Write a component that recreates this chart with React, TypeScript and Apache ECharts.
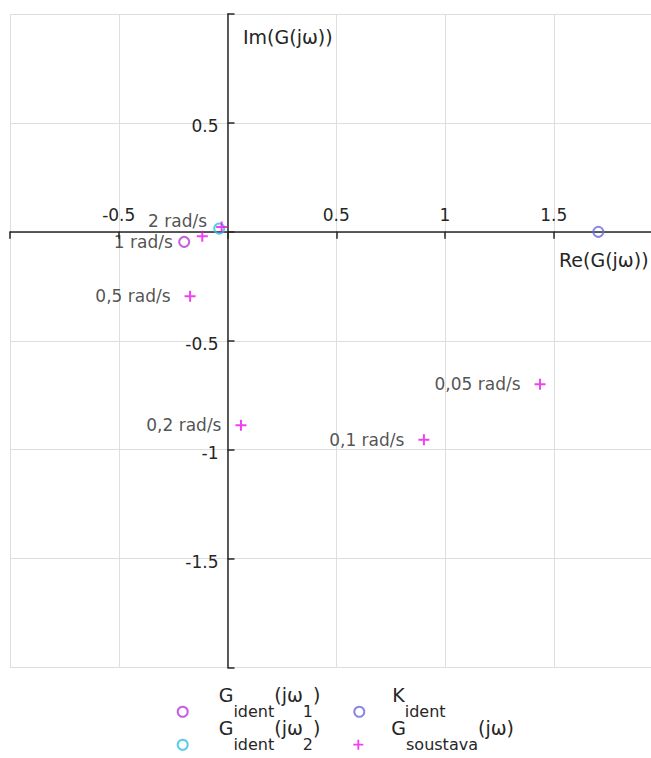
import { useEffect, useRef } from 'react';
import * as echarts from 'echarts';

// Identified frequency-response points (Re, Im)
const gIdent1Point = [-0.199, -0.046];
const gIdent2Point = [-0.038, 0.015];
const kIdentPoint = [1.705, 0];

// Measured plant response G_soustava(jω) at selected frequencies
const gsFreqLabels = ['0,05 rad/s', '0,1 rad/s', '0,2 rad/s', '0,5 rad/s', '1 rad/s', '2 rad/s'];
const gsRe = [1.437, 0.903, 0.062, -0.172, -0.116, -0.027];
const gsIm = [-0.7, -0.954, -0.888, -0.296, -0.02, 0.022];

// Axis ranges and tick values whose labels are not shown
const reRange = [-1, 2];
const imRange = [-2, 1];
const hiddenReTicks = [-1, 0, 2];
const hiddenImTicks = [1, 0, -2];

const FONT = '"DejaVu Sans", Verdana, sans-serif';
const INK = '#262626';
const GRID = '#dedede';
const C_G1 = '#b934d8';
const C_K = '#6a6ae0';
const C_G2 = '#2fc0e2';
const C_GS = '#ee10ee';

const PLUS = 'path://M4.1,0H5.9V4.1H10V5.9H5.9V10H4.1V5.9H0V4.1H4.1Z';

// plot box in pixels
const PLOT = { left: 10, top: 14, width: 652.5, height: 653.5 };

// per-label nudges for the crowded points near the origin
const labelShift: Record<string, [number, number]> = {
  '1 rad/s': [-10, 6],
  '2 rad/s': [5, -6],
};

// legend entries as rich text: m = main text, s = subscript
const legendText: Record<string, string> = {
  G1: '{m|G}{s|ident}{m|(jω}{s|1}{m|)}',
  K: '{m|K}{s|ident}',
  G2: '{m|G}{s|ident}{m|(jω}{s|2}{m|)}',
  Gs: '{m|G}{s|soustava}{m|(jω)}',
};

const hollow = (c: string) => ({ color: 'rgba(0,0,0,0)', borderColor: c, borderWidth: 2 });

export default function App() {
  const ref = useRef<HTMLDivElement>(null);

  useEffect(() => {
    if (!ref.current) return;
    const chart = echarts.init(ref.current, undefined, { renderer: 'svg' });

    // axes cross at the origin: shift each axis from its grid edge to zero
    const zeroFromLeft = (PLOT.width * (0 - reRange[0])) / (reRange[1] - reRange[0]);
    const zeroFromBottom = (PLOT.height * (0 - imRange[0])) / (imRange[1] - imRange[0]);

    const axisCommon = {
      type: 'value' as const,
      interval: 0.5,
      axisLine: { onZero: false, lineStyle: { color: INK, width: 1.5 } },
      splitLine: { show: true, lineStyle: { color: GRID, width: 1 } },
    };
    const tickStyle = { show: true, length: 7, lineStyle: { color: INK, width: 1.5 } };

    const legendEntry = (gap: number) => ({
      orient: 'vertical' as const,
      padding: 0,
      itemWidth: 10,
      itemHeight: 10,
      selectedMode: false,
      formatter: (name: string) => '{g| }' + legendText[name],
      textStyle: {
        color: INK,
        fontFamily: FONT,
        rich: {
          g: { width: gap, fontSize: 10, lineHeight: 22, verticalAlign: 'top' },
          m: { fontSize: 19, lineHeight: 22, verticalAlign: 'top', color: INK, fontFamily: FONT },
          s: { fontSize: 16, lineHeight: 52, height: 52, verticalAlign: 'top', color: INK, fontFamily: FONT },
        },
      },
    });

    chart.setOption({
      animation: false,
      backgroundColor: '#ffffff',
      textStyle: { fontFamily: FONT },
      grid: { ...PLOT, containLabel: false, outerBoundsMode: 'none' },
      xAxis: {
        ...axisCommon,
        position: 'bottom',
        offset: -zeroFromBottom,
        min: reRange[0],
        max: reRange[1],
        axisTick: { ...tickStyle, inside: false },
        axisLabel: {
          inside: true,
          margin: 8,
          fontSize: 17,
          color: INK,
          fontFamily: FONT,
          formatter: (v: number) => (hiddenReTicks.includes(v) ? '' : String(v)),
        },
      },
      yAxis: {
        ...axisCommon,
        position: 'left',
        offset: -zeroFromLeft,
        min: imRange[0],
        max: imRange[1],
        axisTick: { ...tickStyle, inside: true },
        axisLabel: {
          inside: false,
          margin: 9,
          fontSize: 17,
          color: INK,
          fontFamily: FONT,
          verticalAlign: 'top',
          lineHeight: 7,
          formatter: (v: number) => (hiddenImTicks.includes(v) ? '' : String(v)),
        },
      },
      legend: [
        { ...legendEntry(26), left: 176.7, top: 685.7, data: [{ name: 'G1', icon: 'circle', itemStyle: hollow(C_G1) }] },
        { ...legendEntry(26), left: 176.7, top: 718.7, data: [{ name: 'G2', icon: 'circle', itemStyle: hollow(C_G2) }] },
        { ...legendEntry(23), left: 353.3, top: 685.7, data: [{ name: 'K', icon: 'circle', itemStyle: hollow(C_K) }] },
        { ...legendEntry(23), left: 353.3, top: 718.7, data: [{ name: 'Gs', icon: PLUS, itemStyle: { color: C_GS, borderWidth: 0 } }] },
      ],
      graphic: [
        { type: 'text', left: 243, top: 27, style: { text: 'Im(G(jω))', font: `19px ${FONT}`, fill: INK } },
        { type: 'text', left: 559, top: 250, style: { text: 'Re(G(jω))', font: `19px ${FONT}`, fill: INK } },
      ],
      series: [
        {
          type: 'scatter',
          name: 'G1',
          data: [gIdent1Point],
          symbol: 'circle',
          symbolSize: 10,
          itemStyle: hollow(C_G1),
          z: 3,
        },
        {
          type: 'scatter',
          name: 'K',
          data: [kIdentPoint],
          symbol: 'circle',
          symbolSize: 10,
          itemStyle: hollow(C_K),
          z: 3,
        },
        {
          type: 'scatter',
          name: 'G2',
          data: [gIdent2Point],
          symbol: 'circle',
          symbolSize: 10,
          itemStyle: hollow(C_G2),
          z: 3,
        },
        {
          type: 'scatter',
          name: 'Gs',
          symbol: PLUS,
          symbolSize: 11,
          itemStyle: { color: C_GS },
          z: 4,
          label: {
            show: true,
            position: 'left',
            distance: 14,
            formatter: '{b}',
            fontSize: 17,
            color: INK,
            fontFamily: FONT,
          },
          data: gsRe.map((re, i) => ({
            name: gsFreqLabels[i],
            value: [re, gsIm[i]],
            label: { offset: labelShift[gsFreqLabels[i]] ?? [0, 0] },
          })),
        },
      ],
    });

    return () => chart.dispose();
  }, []);

  return (
    <div
      ref={ref}
      style={{ position: 'fixed', left: 0, top: 0, width: 651, height: 758, background: '#fff' }}
    />
  );
}
